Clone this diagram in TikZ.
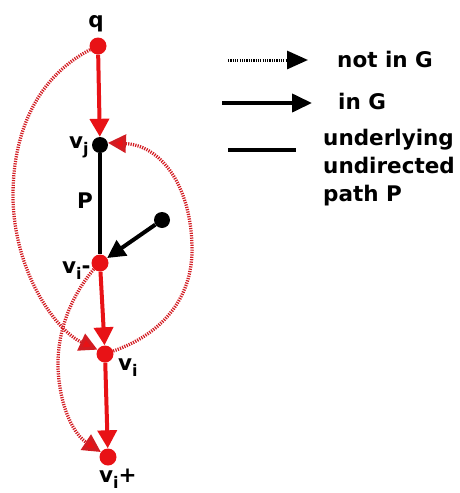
\documentclass[tikz,border=0pt]{standalone}
\usepackage{fontspec}
\setmainfont{DejaVu Sans}
\usetikzlibrary{arrows.meta}
\definecolor{myred}{RGB}{232,18,22}
\definecolor{dotred}{RGB}{210,28,34}
\newcommand\lsub[1]{\raisebox{-0.3em}{\fontsize{16}{16}\selectfont #1}}
\begin{document}
\begin{tikzpicture}[x=1pt,y=-1pt,
  lbl/.style={font=\bfseries\fontsize{21.5}{26}\selectfont, inner sep=0pt},
  rdot/.style={circle, fill=myred, inner sep=0pt, minimum size=17pt},
  bdot/.style={circle, fill=black, inner sep=0pt, minimum size=16pt},
  redarrow/.style={myred, line width=4pt, -{Triangle[length=18pt,width=19pt]}},
  dotarrow/.style={dotred, line width=3.3pt, dash pattern=on 1.2pt off 1.2pt, -{Triangle[length=18pt,width=18pt,fill=myred]}},
  blackarrow/.style={black, line width=4pt, -{Triangle[length=18pt,width=18pt]}}]
\useasboundingbox (0,0) rectangle (459,493);
% nodes
\node[rdot] (q) at (98,46) {};
\node[bdot] (vj) at (100,145) {};
\node[rdot] (vim) at (100,263) {};
\node[rdot] (vi) at (105,354) {};
\node[rdot] (vip) at (108,457) {};
\node[bdot] (x) at (162,220) {};
% labels
\node[lbl, anchor=base] (lq) at (96,27) {q};
\node[lbl, anchor=base west] (lvj) at (69,148) {v\lsub{j}};
\node[lbl, anchor=base west] (lp) at (77,208) {P};
\node[lbl, anchor=base west] (lvim) at (62,273) {v\lsub{i}-};
\node[lbl, anchor=base west] (lvi) at (118,370) {v\lsub{i}};
\node[lbl, anchor=base west] (lvip) at (99,482) {v\lsub{i}+};
% path P and edges
\draw[black, line width=4pt] (vj) -- (vim);
\draw[blackarrow] (x) -- (vim);
\draw[redarrow] (q) -- (vj);
\draw[redarrow] (vim) -- (vi);
\draw[redarrow] (vi) -- (vip);
% dotted edges
\draw[dotarrow] (q.205) .. controls (32,80) and (13,140) .. (13,195)
   .. controls (13,270) and (55,330) .. (vi.150);
\draw[dotarrow] (vi.20) .. controls (160,335) and (192,300) .. (192,250)
   .. controls (192,185) and (160,145) .. (vj.15);
\draw[dotarrow] (vim.225) .. controls (72,295) and (57,330) .. (58,368)
   .. controls (60,410) and (75,435) .. (vip.145);
% legend
\coordinate (d1) at (228,60); \coordinate (d2) at (308,60);
\draw[black, line width=3pt, dash pattern=on 1.2pt off 1.1pt, -{Triangle[length=21pt,width=18pt]}] (d1) -- (d2);
\node[lbl, anchor=base west] (t1) at (337,67) {not in G};
\coordinate (s1) at (222,103); \coordinate (s2) at (312,103);
\draw[black, line width=4pt, -{Triangle[length=20pt,width=18pt]}] (s1) -- (s2);
\node[lbl, anchor=base west] (t2) at (338,109) {in G};
\coordinate (u1) at (228,150); \coordinate (u2) at (296,150);
\draw[black, line width=4pt] (u1) -- (u2);
\node[lbl, anchor=base west] (t3) at (323,145) {underlying};
\node[lbl, anchor=base west] (t4) at (323,173) {undirected};
\node[lbl, anchor=base west] (t5) at (323,201) {path P};
\end{tikzpicture}
\end{document}
